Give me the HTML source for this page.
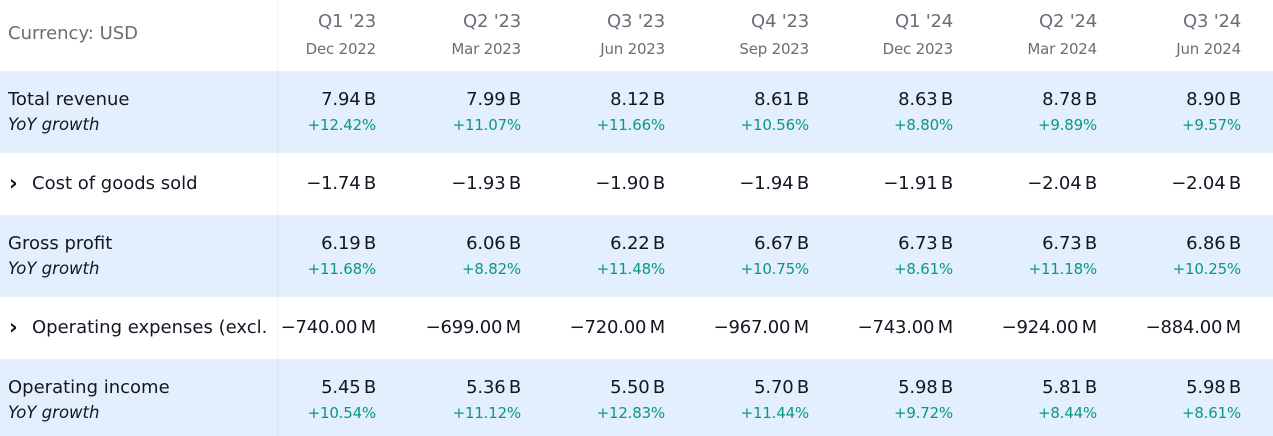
<!DOCTYPE html>
<html><head><style>
body{margin:0;width:1273px;height:436px;overflow:hidden;background:#fff;font-family:"DejaVu Sans","Liberation Sans",sans-serif;color:#131722;position:relative}
.row{position:absolute;left:0;width:1273px}
.b{background:#e3effd}
.t{position:absolute;white-space:nowrap}
.l{left:8px}
.v{text-align:right;width:140px;letter-spacing:-0.2px}
.g{color:#089981;font-size:15px}
.h{color:#6a6d78}
.sep{position:absolute;left:277px;top:0;width:3px;height:436px;background:linear-gradient(90deg,rgba(0,0,0,0.04),rgba(0,0,0,0))}
</style></head><body>
<div class="row b" style="top:71px;height:82px"></div>
<div class="row b" style="top:215px;height:82px"></div>
<div class="row b" style="top:359px;height:77px"></div>
<div class="sep"></div>
<div id="c"></div>
<script>
var rE=[376,521,665,809,953,1097,1241];
var q=["Q1 '23","Q2 '23","Q3 '23","Q4 '23","Q1 '24","Q2 '24","Q3 '24"];
var d=["Dec 2022","Mar 2023","Jun 2023","Sep 2023","Dec 2023","Mar 2024","Jun 2024"];
var rows=[
[89,"Total revenue",["7.94\u2009B","7.99\u2009B","8.12\u2009B","8.61\u2009B","8.63\u2009B","8.78\u2009B","8.90\u2009B"],["+12.42%","+11.07%","+11.66%","+10.56%","+8.80%","+9.89%","+9.57%"]],
[173,"›Cost of goods sold",["\u22121.74\u2009B","\u22121.93\u2009B","\u22121.90\u2009B","\u22121.94\u2009B","\u22121.91\u2009B","\u22122.04\u2009B","\u22122.04\u2009B"]],
[233,"Gross profit",["6.19\u2009B","6.06\u2009B","6.22\u2009B","6.67\u2009B","6.73\u2009B","6.73\u2009B","6.86\u2009B"],["+11.68%","+8.82%","+11.48%","+10.75%","+8.61%","+11.18%","+10.25%"]],
[317,"›Operating expenses (excl.",["\u2212740.00\u2009M","\u2212699.00\u2009M","\u2212720.00\u2009M","\u2212967.00\u2009M","\u2212743.00\u2009M","\u2212924.00\u2009M","\u2212884.00\u2009M"]],
[377,"Operating income",["5.45\u2009B","5.36\u2009B","5.50\u2009B","5.70\u2009B","5.98\u2009B","5.81\u2009B","5.98\u2009B"],["+10.54%","+11.12%","+12.83%","+11.44%","+9.72%","+8.44%","+8.61%"]]
];
var h='<div class="t l h" style="top:23px;font-size:18px">Currency: USD</div>';
for(var i=0;i<7;i++){h+='<div class="t v h" style="left:'+(rE[i]-140)+'px;top:11px;font-size:18px">'+q[i]+'</div><div class="t v h" style="left:'+(rE[i]-140)+'px;top:40px;font-size:15px">'+d[i]+'</div>';}
rows.forEach(function(r){
 if(r[1][0]=='›'){h+='<div class="t" style="left:9px;top:'+(r[0]-2)+'px;font-size:21px;font-weight:bold">›</div><div class="t" style="left:32px;top:'+r[0]+'px;font-size:18px;width:244px;overflow:hidden">'+r[1].slice(1)+'</div>';}
 else h+='<div class="t l" style="top:'+r[0]+'px;font-size:18px">'+r[1]+'</div>';
 if(r[3])h+='<div class="t l" style="top:'+(r[0]+26)+'px;font-size:16.5px;font-style:italic">YoY growth</div>';
 for(var i=0;i<7;i++){h+='<div class="t v" style="left:'+(rE[i]-140)+'px;top:'+r[0]+'px;font-size:18px">'+r[2][i]+'</div>';
  if(r[3])h+='<div class="t v g" style="left:'+(rE[i]-140)+'px;top:'+(r[0]+27)+'px">'+r[3][i]+'</div>';}
});
document.getElementById('c').innerHTML=h;
</script>
</body></html>
